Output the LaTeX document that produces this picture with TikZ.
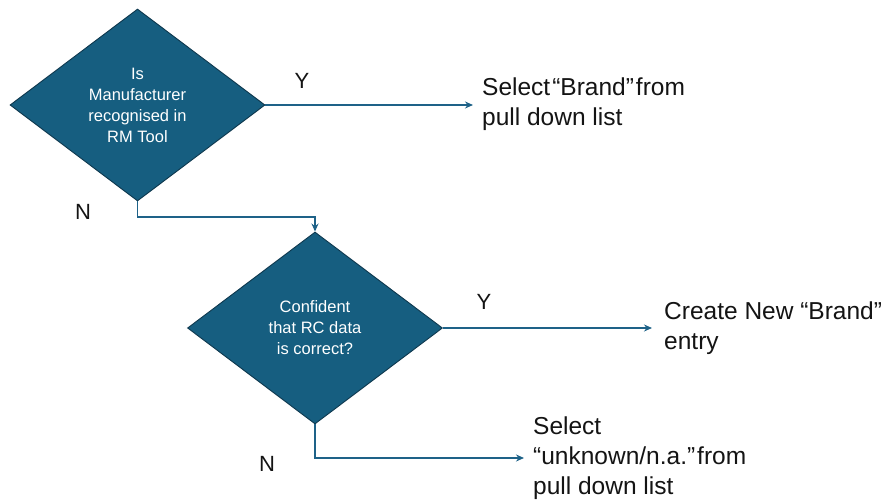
\documentclass[tikz,border=0pt]{standalone}
\usepackage{fontspec}
\setmainfont{Liberation Sans}
\usetikzlibrary{shapes.geometric,arrows.meta}
\definecolor{decfill}{RGB}{22,94,128}
\definecolor{decedge}{RGB}{14,56,78}
\definecolor{flow}{RGB}{30,98,136}
\definecolor{ink}{RGB}{20,20,20}
\tikzset{
  decision/.style={diamond, draw=decedge, line width=0.9pt, fill=decfill,
    inner sep=0pt, minimum width=255pt, minimum height=192pt,
    text=white, align=center, font=\fontsize{16.5}{21}\selectfont},
  outcome/.style={anchor=west, inner sep=0pt, align=left, text=ink,
    font=\fontsize{24.5}{30}\selectfont},
  branch/.style={text=ink, inner sep=0pt, font=\fontsize{22}{24}\selectfont},
  flowline/.style={draw=flow, line width=1.5pt,
    -{Stealth[length=8pt,width=7pt]}}
}
\begin{document}
\begin{tikzpicture}[x=1pt,y=-1pt]
  \fill[white] (0,0) rectangle (889,502);
  \useasboundingbox (0,0) rectangle (889,502);

  % decisions
  \node[decision] (d1) at (137.5,105) {Is\\Manufacturer\\recognised in\\RM Tool};
  \node[decision] (d2) at (315,328) {Confident\\that RC data\\is correct?};

  % outcomes
  \node[outcome] (t1) at (482,104) {Select\kern2pt“Brand”\kern2pt from\\pull down list};
  \node[outcome] (t2) at (664,328) {Create New “Brand”\\entry};
  \node[outcome] (t3) at (533,458) {Select\\“unknown/n.a.”\kern2pt from\\pull down list};

  % branch labels
  \node[branch] (y1) at (302,81) {Y};
  \node[branch] (n1) at (83,212) {N};
  \node[branch] (y2) at (484,302) {Y};
  \node[branch] (n2) at (267,464) {N};

  % connectors
  \coordinate (j1) at (137,217);
  \draw[flowline, shorten >=9pt] (d1.east) -- (d1.east -| t1.west);
  \draw[flowline] (d1.south) -- (d1.south |- j1) -| (d2.north);
  \draw[flowline, shorten >=12pt] (d2.east) -- (d2.east -| t2.west);
  \draw[flowline, shorten >=9pt] (d2.south) |- (t3.west);
\end{tikzpicture}
\end{document}
